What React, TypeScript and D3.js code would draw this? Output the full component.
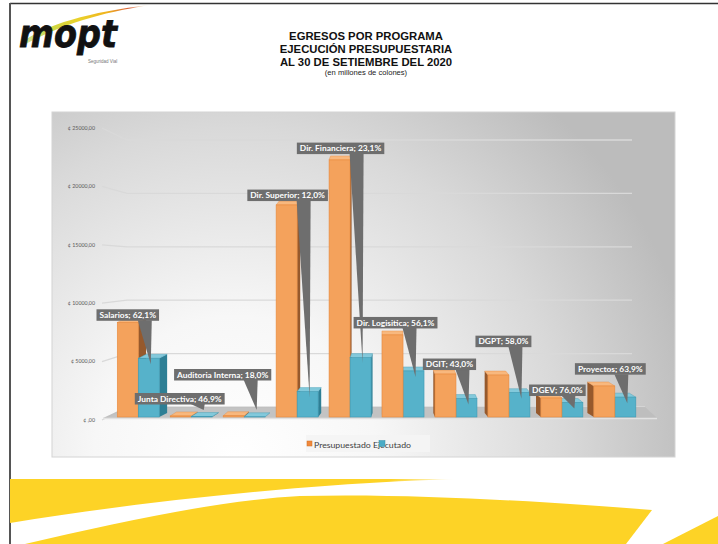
import React from "react";
import * as d3 from "d3";

const categories = [
  "Salarios",
  "Junta Directiva",
  "Auditoria Interna",
  "Dir. Superior",
  "Dir. Financiera",
  "Dir. Logisitica",
  "DGIT",
  "DGPT",
  "DGEV",
  "Proyectos",
];
const presupuestado = [8300, 90, 110, 18600, 22550, 7200, 3770, 3680, 1670, 2720];
const ejecutado = [5150, 42, 20, 2230, 5210, 4040, 1620, 2135, 1270, 1740];
const porcentajes = ["62,1%", "46,9%", "18,0%", "12,0%", "23,1%", "56,1%", "43,0%", "58,0%", "76,0%", "63,9%"];
const yTicks = [0, 5000, 10000, 15000, 20000, 25000];
const tickLabels = ["¢ ,00", "¢ 5000,00", "¢ 10000,00", "¢ 15000,00", "¢ 20000,00", "¢ 25000,00"];
const seriesNames = ["Presupuestado", "Ejecutado"];
const titleLines = ["EGRESOS POR PROGRAMA", "EJECUCIÓN PRESUPUESTARIA", "AL 30 DE SETIEMBRE DEL 2020"];
const subtitle = "(en millones de colones)";

// callout box offsets relative to the leader tip: [dx of box centre, dy of box top]
const calloutOffsets: [number, number][] = [
  [-23, -55],
  [-24, -17],
  [-34, -41],
  [-22, -208],
  [-22, -221],
  [-20, -60],
  [-19, -46],
  [-18, -63],
  [-17, -24],
  [-17, -40],
];

const LABEL_FONT = "bold 8.4px Lato";

function measure(text: string, font: string): number {
  if (typeof document === "undefined") return text.length * 4;
  const c = document.createElement("canvas");
  const ctx = c.getContext("2d");
  if (!ctx) return text.length * 4;
  ctx.font = font;
  return ctx.measureText(text).width;
}

type Colors = { front: string; side: string; top: string; stroke: string };
const orange: Colors = { front: "#f4a25c", side: "#96592c", top: "#f8b87e", stroke: "#e8893c" };
const blue: Colors = { front: "#56b2ca", side: "#2e7f95", top: "#83c9db", stroke: "#3e9bb4" };

function Bar3D({ x0, x1, yt, yb, dx, dy, c }: { x0: number; x1: number; yt: number; yb: number; dx: number; dy: number; c: Colors }) {
  const side =
    dx >= 0
      ? [[x1, yt], [x1 + dx, yt + dy], [x1 + dx, yb + dy], [x1, yb]]
      : [[x0, yt], [x0 + dx, yt + dy], [x0 + dx, yb + dy], [x0, yb]];
  const top = [[x0, yt], [x1, yt], [x1 + dx, yt + dy], [x0 + dx, yt + dy]];
  const pts = (p: number[][]) => p.map((q) => q.join(",")).join(" ");
  return (
    <g>
      <polygon points={pts(side)} fill={c.side} />
      <polygon points={pts(top)} fill={c.top} stroke={c.stroke} strokeWidth={0.4} />
      <rect x={x0} y={yt} width={x1 - x0} height={Math.max(0, yb - yt)} fill={c.front} stroke={c.stroke} strokeWidth={0.6} />
    </g>
  );
}

export default function App() {
  const W = 718;
  const H = 544;
  const panel = { x: 52, y: 112, w: 623, h: 345 };

  const x = d3.scaleBand<string>().domain(categories).range([111.8, 641.3]);
  const y = d3.scaleLinear().domain([0, 25000]).range([417, 132]);
  const yLabel = d3.scaleLinear().domain([0, 25000]).range([420, 128]);
  const yWall = d3.scaleLinear().domain([0, 25000]).range([407, 140]);

  const barW = 21;
  const vpX = 400;
  const kx = 0.03;
  const depthY = -4;
  const floorY = 417;

  const groups = categories.map((cat, i) => {
    const c = (x(cat) as number) + x.bandwidth() / 2;
    const dx = (vpX - c) * kx;
    const oTop = y(presupuestado[i]);
    const bTop = y(ejecutado[i]);
    const orangeBar = <Bar3D key="o" x0={c - barW} x1={c} yt={oTop} yb={floorY} dx={dx} dy={depthY} c={orange} />;
    const blueBar = <Bar3D key="b" x0={c} x1={c + barW} yt={bTop} yb={floorY} dx={dx} dy={depthY} c={blue} />;
    return <g key={cat}>{dx >= 0 ? [orangeBar, blueBar] : [blueBar, orangeBar]}</g>;
  });

  const callouts = categories.map((cat, i) => {
    const c = (x(cat) as number) + x.bandwidth() / 2;
    const tipX = c + barW / 2 + 2;
    const tipY = Math.min(y(ejecutado[i]) + 6, 410);
    const text = `${cat}; ${porcentajes[i]}`;
    const tw = measure(text, LABEL_FONT);
    const bw = tw + 6;
    const bh = 11.5;
    const [ox, oy] = calloutOffsets[i];
    const bx = tipX + ox - bw / 2;
    const by = tipY + oy;
    const baseC = Math.max(bx + 7, Math.min(bx + bw - 7, tipX - 6));
    const tri = `${baseC - 7},${by + bh - 0.5} ${baseC + 7},${by + bh - 0.5} ${tipX},${tipY}`;
    return (
      <g key={cat}>
        <polygon points={tri} fill="#6e6e6e" />
        <rect x={bx} y={by} width={bw} height={bh} fill="#6e6e6e" />
        <text x={bx + bw / 2} y={by + 8.6} textAnchor="middle" fill="#ffffff" fontFamily="Lato" fontWeight="bold" fontSize={8.4}>
          {text}
        </text>
      </g>
    );
  });

  return (
    <svg width={W} height={H} style={{ position: "absolute", left: 0, top: 0 }} xmlns="http://www.w3.org/2000/svg">
      <defs>
        <radialGradient id="panelGrad" gradientUnits="userSpaceOnUse" cx={235} cy={457} r={470} fx={235} fy={457}>
          <stop offset="0" stopColor="#ffffff" />
          <stop offset="0.3" stopColor="#f7f7f7" />
          <stop offset="0.7" stopColor="#d9d9d9" />
          <stop offset="1" stopColor="#bcbcbc" />
        </radialGradient>
        <linearGradient id="swoosh" x1="0" y1="1" x2="1" y2="0">
          <stop offset="0" stopColor="#b8d060" stopOpacity="0.5" />
          <stop offset="0.3" stopColor="#c8d84a" />
          <stop offset="0.55" stopColor="#e9d22c" />
          <stop offset="0.75" stopColor="#f0b21c" />
          <stop offset="0.88" stopColor="#d9603c" />
          <stop offset="1" stopColor="#f2e6a0" stopOpacity="0.2" />
        </linearGradient>
        <linearGradient id="bandFade" x1="0" y1="0" x2="1" y2="0">
          <stop offset="0" stopColor="#fdd326" />
          <stop offset="0.85" stopColor="#fdd326" />
          <stop offset="1" stopColor="#fdd326" stopOpacity="0" />
        </linearGradient>
      </defs>

      <rect x={0} y={0} width={W} height={H} fill="#ffffff" />

      {/* page frame */}
      <line x1={10} y1={3.5} x2={W} y2={3.5} stroke="#333" strokeWidth={1.5} />
      <line x1={10} y1={3} x2={10} y2={H} stroke="#555" strokeWidth={2} />

      {/* logo */}
      <path d="M20,44 C45,24 90,12 150,5 C100,13 62,24 22,46 Z" fill="url(#swoosh)" />
      <text x={19} y={47} fontFamily="DejaVu Sans" fontWeight="bold" fontStyle="italic" fontSize={38} fill="#111" stroke="#111" strokeWidth={0.8} textLength={98} lengthAdjust="spacingAndGlyphs">
        mopt
      </text>
      <text x={88} y={63} fontFamily="Liberation Sans" fontSize={4.5} fill="#777">
        Seguridad Vial
      </text>

      {/* titles */}
      {titleLines.map((t, i) => (
        <text key={t} x={366} y={39.5 + i * 13} textAnchor="middle" fontFamily="Liberation Sans" fontWeight="bold" fontSize={11.3} fill="#111">
          {t}
        </text>
      ))}
      <text x={366} y={74.5} textAnchor="middle" fontFamily="Liberation Sans" fontSize={7.6} fill="#222">
        {subtitle}
      </text>

      {/* chart panel */}
      <rect x={panel.x} y={panel.y} width={panel.w} height={panel.h} fill="url(#panelGrad)" stroke="#d4d4d4" strokeWidth={1} />

      {/* gridlines with side wall stub */}
      {yTicks.map((t) => (
        <polyline
          key={t}
          points={`102,${yLabel(t)} 127,${yWall(t)} ${t === 0 ? 645 : 632},${yWall(t)}`}
          fill="none"
          stroke="#d9d9d9"
          strokeWidth={1.3}
        />
      ))}
      {yTicks.map((t, i) => (
        <text key={t} x={95} y={yLabel(t) + 1.8} textAnchor="end" fontFamily="Lato" fontSize={5.3} fill="#595959">
          {tickLabels[i]}
        </text>
      ))}

      {/* floor */}
      <polygon points={`127,${yWall(0)} 645,${yWall(0)} 657,${floorY + 1} 103,${floorY + 1}`} fill="#bdbdbd" opacity={0.9} />
      <line x1={103} y1={floorY + 1.5} x2={657} y2={floorY + 1.5} stroke="#e2e2e2" strokeWidth={1.5} />

      {groups}
      {callouts}

      {/* legend */}
      <rect x={306} y={435} width={124} height={17} fill="#f4f4f4" opacity={0.9} />
      <rect x={307} y={441} width={5} height={5} fill="#f0883c" stroke="#d07020" strokeWidth={0.5} />
      <text x={314} y={447.5} fontFamily="Lato" fontSize={8} fill="#404040" textLength={97} lengthAdjust="spacingAndGlyphs">
        {seriesNames.join(" ")}
      </text>
      <rect x={379} y={440.5} width={6} height={6} fill="#4bacc6" stroke="#3a8ea5" strokeWidth={0.5} />

      {/* yellow bands */}
      <path d="M10,479 L458,479 C330,482 150,500 10,523 Z" fill="url(#bandFade)" />
      <path d="M25,544 C120,522 220,500 300,496 C420,493 560,503 652,510 L626,544 Z" fill="#fdd326" />
      <path d="M663,544 L718,516 L718,544 Z" fill="#fdd326" />
    </svg>
  );
}
